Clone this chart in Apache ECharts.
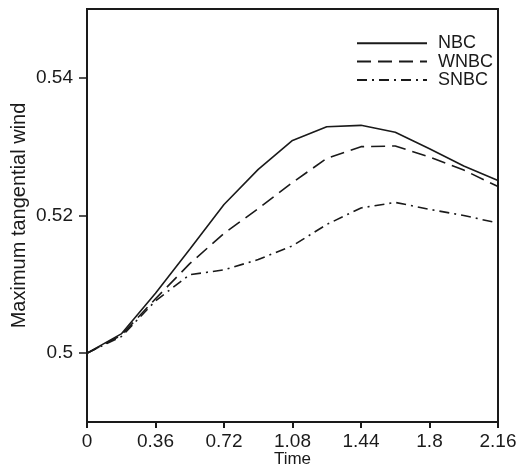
<!DOCTYPE html>
<html>
<head>
<meta charset="utf-8">
<script src="https://cdn.jsdelivr.net/npm/echarts@6/dist/echarts.min.js"></script>
<style>html,body{margin:0;padding:0;background:#fff;}#c{width:521px;height:468px;}</style>
</head>
<body>
<div id="c"></div>
<script>
var times = [0, 0.18, 0.36, 0.54, 0.72, 0.9, 1.08, 1.26, 1.44, 1.62, 1.8, 1.98, 2.16];
var nbc  = [0.5, 0.5028, 0.5087, 0.5151, 0.5216, 0.5267, 0.5309, 0.5329, 0.5331, 0.5321, 0.5297, 0.5272, 0.5251];
var wnbc = [0.5, 0.5026, 0.5079, 0.5130, 0.5174, 0.5210, 0.5248, 0.5283, 0.5300, 0.5301, 0.5285, 0.5266, 0.5242];
var snbc = [0.5, 0.5024, 0.5076, 0.5114, 0.5121, 0.5136, 0.5156, 0.5187, 0.5211, 0.5219, 0.5209, 0.5200, 0.5189];
var yTicks = [0.5, 0.52, 0.54];
var seriesNames = ['NBC', 'WNBC', 'SNBC'];

function pairs(vals) { return times.map(function (t, i) { return [t, vals[i]]; }); }

var FONT = "'Liberation Sans', Arial, sans-serif";
var INK = '#1a1a1a';
var chart = echarts.init(document.getElementById('c'), null, {renderer: 'canvas'});
chart.setOption({
  animation: false,
  backgroundColor: '#fff',
  grid: {left: 87, right: 23, top: 9, bottom: 46, containLabel: false, outerBoundsMode: 'none',
         show: true, borderColor: INK, borderWidth: 2, backgroundColor: 'transparent'},
  legend: {
    orient: 'vertical', left: 356, top: 34, padding: 0, itemWidth: 70, itemHeight: 14, itemGap: 0,
    data: seriesNames,
    itemStyle: {opacity: 0},
    textStyle: {fontFamily: FONT, fontSize: 18, lineHeight: 18.4, color: INK, padding: [0, 0, 0, 6]}
  },
  xAxis: {
    type: 'value', min: 0, max: 2.16, interval: 0.36,
    name: 'Time', nameLocation: 'middle', nameGap: 29, nameMoveOverlap: false,
    nameTextStyle: {fontFamily: FONT, fontSize: 17, color: INK},
    axisLine: {show: true, lineStyle: {color: INK, width: 2}},
    axisTick: {show: true, inside: false, length: 6, lineStyle: {color: INK, width: 2}},
    axisLabel: {fontFamily: FONT, fontSize: 19, color: INK, margin: 10},
    splitLine: {show: false}
  },
  yAxis: {
    type: 'value', min: 0.49, max: 0.55,
    name: 'Maximum tangential wind', nameLocation: 'middle', nameGap: 58, nameMoveOverlap: false,
    nameTextStyle: {fontFamily: FONT, fontSize: 20, color: INK},
    axisLine: {show: true, lineStyle: {color: INK, width: 2}},
    axisTick: {show: true, inside: false, length: 8, customValues: yTicks, lineStyle: {color: INK, width: 1.5}},
    axisLabel: {fontFamily: FONT, fontSize: 19, color: INK, margin: 14, customValues: yTicks},
    splitLine: {show: false}
  },
  series: [
    {name: seriesNames[0], type: 'line', data: pairs(nbc), symbol: 'none', lineStyle: {color: INK, width: 1.6, type: 'solid'}, itemStyle: {color: INK}},
    {name: seriesNames[1], type: 'line', data: pairs(wnbc), symbol: 'none', lineStyle: {color: INK, width: 1.6, type: [14, 7]}, itemStyle: {color: INK}},
    {name: seriesNames[2], type: 'line', data: pairs(snbc), symbol: 'none', lineStyle: {color: INK, width: 1.6, type: [10, 5, 2, 5]}, itemStyle: {color: INK}}
  ]
});
</script>
</body>
</html>
